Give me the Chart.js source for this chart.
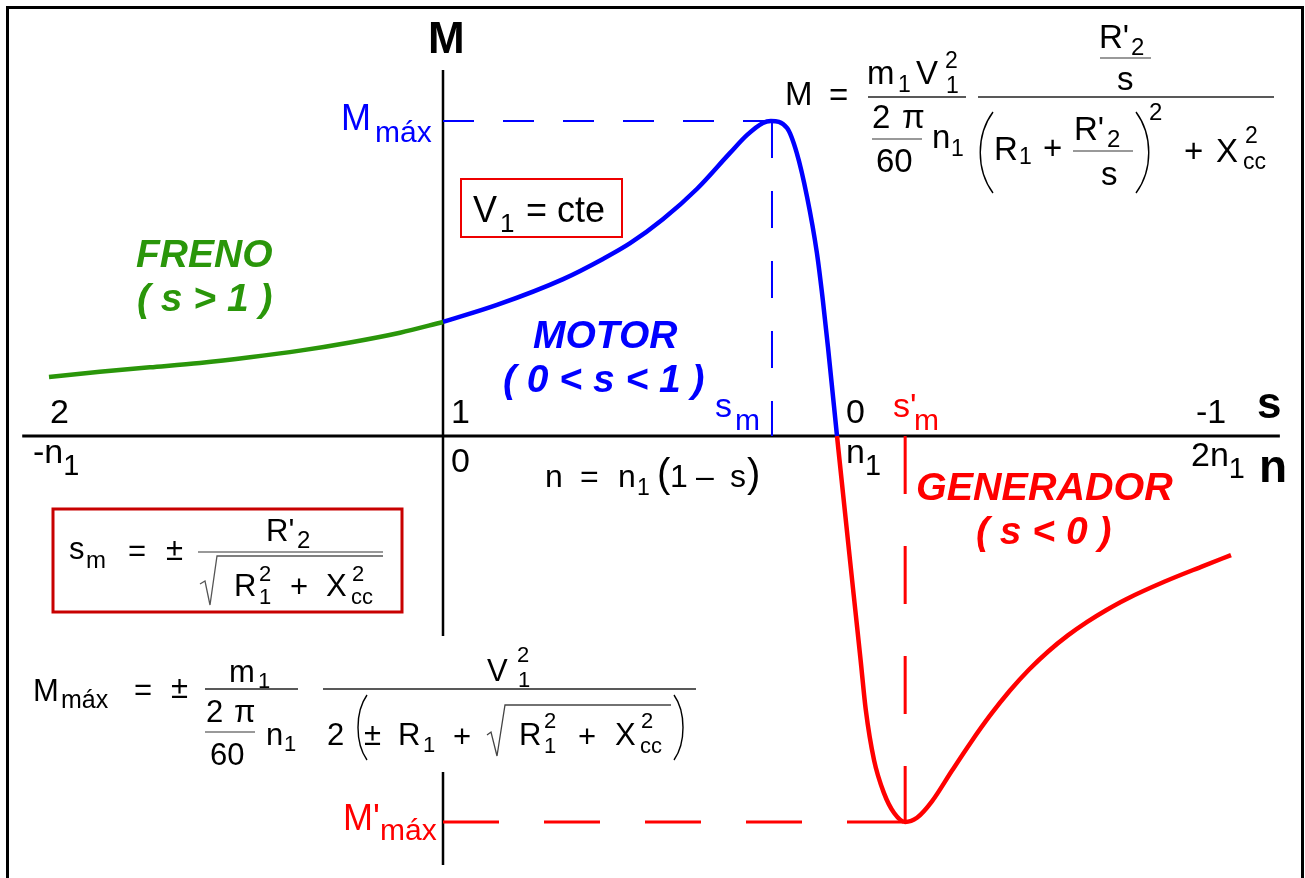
<!DOCTYPE html>
<html><head><meta charset="utf-8">
<script src="https://cdn.jsdelivr.net/npm/chart.js@4.4.1/dist/chart.umd.min.js"></script>
<style>
html,body{margin:0;padding:0;background:#fff;overflow:hidden;width:1305px;height:878px}
#wrap{position:absolute;left:0;top:0;width:1305px;height:878px}
#c{position:absolute;left:0;top:0}
#layer{position:absolute;left:0;top:0;width:1305px;height:878px;pointer-events:none}
.t{position:absolute;white-space:nowrap;font-family:"Liberation Sans",Arial,sans-serif;line-height:1;color:#000}
.tsub{font-size:.85em;position:relative;top:.42em}
#frame{position:absolute;left:6px;top:6px;width:1298px;height:900px;border:3px solid #000;box-sizing:border-box}
#fbox{position:absolute;left:15px;top:636px;width:700px;height:136px;background:#fff}
</style></head>
<body>
<div id="wrap">
<canvas id="c" width="1305" height="878"></canvas>
<div id="frame"></div>
<div id="fbox"></div>
<div id="layer"></div>
<svg id="svg" width="1305" height="878" style="position:absolute;left:0;top:0;pointer-events:none"></svg>
</div>
<script>
// ---- data (n/n1 on x, torque M relative to Mmax on y) ----
const greenN = [-1.0,-0.871,-0.744,-0.617,-0.490,-0.363,-0.236,-0.109,0];
const greenM = [0.187,0.204,0.218,0.232,0.250,0.271,0.297,0.328,0.362];
const blueN = [0,0.137,0.305,0.406,0.475,0.558,0.645,0.728,0.772,0.812,0.832,0.873,0.898,0.924,0.949,0.964,0.977,1.0];
const blueM = [0.362,0.416,0.498,0.562,0.612,0.688,0.785,0.898,0.956,0.994,1.0,0.978,0.898,0.759,0.581,0.432,0.283,0];
const redN = [1.0,1.0117,1.033,1.0464,1.0599,1.0731,1.094,1.119,1.145,1.173,1.203,1.241,1.292,1.340,1.388,1.439,1.487,1.536,1.586,1.635,1.683,1.734,1.832,1.929,2.0];
const redM = [0,-0.140,-0.394,-0.552,-0.711,-0.870,-1.029,-1.133,-1.197,-1.225,-1.212,-1.160,-1.062,-0.972,-0.888,-0.808,-0.742,-0.684,-0.633,-0.590,-0.553,-0.518,-0.462,-0.413,-0.378];
const keyM = [1.0, -1.225];        // Mmax, M'max
const keyN = [0.835, 1.173];       // n at s_m, n at s'_m
const xAxisN = [-1.068, 2.124];
const yAxisM = [1.162, -1.362];
const sTicks = [2, 1, 0, -1];
const sTickLabels = ['2', '1', '0', '-1'];
const nTickLabels = ['-n<span class="tsub">1</span>', '0', 'n<span class="tsub">1</span>', '2n<span class="tsub">1</span>'];

const BLUE = '#0000ff', RED = '#ff0000', GREEN = '#2a960a';
const pts = (xs, ys) => xs.map((x, i) => ({x, y: ys[i]}));

const line = (data, color, width, extra) => Object.assign({
  type: 'scatter', data, showLine: true, borderColor: color, backgroundColor: color,
  borderWidth: width, pointRadius: 0, fill: false
}, extra || {});

const chart = new Chart(document.getElementById('c'), {
  type: 'scatter',
  data: { datasets: [
    line(pts(greenN, greenM), GREEN, 4.5, {cubicInterpolationMode: 'monotone', order: 0}),
    line(pts(blueN, blueM), BLUE, 4.5, {cubicInterpolationMode: 'monotone', order: 0}),
    line(pts(redN, redM), RED, 4.5, {cubicInterpolationMode: 'monotone', order: 0}),
    line([{x: 0, y: keyM[0]}, {x: keyN[0], y: keyM[0]}], BLUE, 2, {borderDash: [31, 29], order: 2}),
    line([{x: keyN[0], y: keyM[0]}, {x: keyN[0], y: 0}], BLUE, 2, {borderDash: [37, 33], order: 2}),
    line([{x: 0, y: keyM[1]}, {x: keyN[1], y: keyM[1]}], RED, 3, {borderDash: [56, 45], order: 2}),
    line([{x: keyN[1], y: 0}, {x: keyN[1], y: keyM[1]}], RED, 3, {borderDash: [58, 52], order: 2}),
    line([{x: xAxisN[0], y: 0}, {x: xAxisN[1], y: 0}], '#000', 3, {order: 5}),
    line([{x: 0, y: yAxisM[0]}, {x: 0, y: yAxisM[1]}], '#000', 2.5, {order: 5})
  ]},
  options: {
    responsive: false, animation: false, devicePixelRatio: 1,
    layout: {padding: 0},
    plugins: {legend: {display: false}, tooltip: {enabled: false}},
    scales: {
      x: {type: 'linear', display: false, min: -443/394, max: (1305-443)/394},
      y: {type: 'linear', display: false, min: (436-878)/315, max: 436/315}
    }
  }
});

// ---- text helpers ----
const layer = document.getElementById('layer');
function T(html, x, by, size, o) {
  o = o || {};
  const d = document.createElement('div');
  d.className = 't';
  d.innerHTML = html;
  d.style.fontSize = size + 'px';
  d.style.top = (by - 0.8465 * size) + 'px';
  d.style.left = x + 'px';
  if (o.color) d.style.color = o.color;
  if (o.bold) d.style.fontWeight = 'bold';
  if (o.italic) d.style.fontStyle = 'italic';
  layer.appendChild(d);
  return d;
}
const svg = document.getElementById('svg');
function P(d, w, color, fill) {
  const p = document.createElementNS('http://www.w3.org/2000/svg', 'path');
  p.setAttribute('d', d);
  p.setAttribute('stroke', color || '#000');
  p.setAttribute('stroke-width', w);
  p.setAttribute('fill', fill || 'none');
  svg.appendChild(p);
}
const bar = (x1, x2, y, c, w) => P(`M${x1} ${y}H${x2}`, w || 1.5, c || '#222');

// ---- tick labels positioned through the x scale ----
const xs = chart.scales.x;
const sDx = [1, 8, 9, -35], sBy = [423, 423, 423, 423];
const nDx = [-16, 8, 9, -40], nBy = [463, 472, 463, 466];
sTicks.forEach((s, i) => {
  const px = xs.getPixelForValue(1 - s);
  T(sTickLabels[i], px + sDx[i], sBy[i], 34);
  T(nTickLabels[i], px + nDx[i], nBy[i], 34);
});

// axis names
T('M', 428, 53, 44, {bold: true});
T('s', 1257, 418, 44, {bold: true});
T('n', 1259, 482, 46, {bold: true});

// key labels
T('M', 341, 130, 36, {color: BLUE});
T('máx', 375, 142, 30, {color: BLUE});
T("M'", 343, 830, 36, {color: RED});
T('máx', 380, 840, 30, {color: RED});
T('s', 715, 417, 34, {color: BLUE});
T('m', 735, 430, 30, {color: BLUE});
T("s'", 893, 417, 34, {color: RED});
T('m', 914, 430, 30, {color: RED});

// zone labels
T('FRENO', 136, 267, 39, {bold: true, italic: true, color: GREEN});
T('( s &gt; 1 )', 137, 311, 39, {bold: true, italic: true, color: GREEN});
T('MOTOR', 533, 348, 39, {bold: true, italic: true, color: BLUE});
T('( 0 &lt; s &lt; 1 )', 503, 392, 39, {bold: true, italic: true, color: BLUE});
T('GENERADOR', 916, 500, 39.5, {bold: true, italic: true, color: RED});
T('( s &lt; 0 )', 976, 544, 39, {bold: true, italic: true, color: RED});

// V1 = cte box
P('M461 179H622V237H461Z', 2, '#ee0000');
T('V', 473, 222, 36);
T('1', 500, 232, 26);
T('= cte', 526, 222, 36);

// n = n1 (1 - s)
T('n', 545, 487, 32);
T('=', 580, 487, 32);
T('n', 618, 487, 32);
T('1', 637, 495, 23);
T('(', 657, 487, 40);
T('1', 670, 487, 32);
T('–', 696, 487, 32);
T('s', 730, 487, 32);
T(')', 747, 487, 40);

// ---- top formula ----
T('M', 785, 105, 33);
T('=', 829, 106, 33);
T('m', 867, 84, 33); T('1', 898, 92, 23);
T('V', 916, 84, 33); T('2', 945, 68, 23); T('1', 946, 93, 23);
bar(868, 966, 97);
T('2', 872, 128, 33); T('π', 902, 128, 33);
bar(872, 922, 139, '#777');
T('60', 876, 172, 33);
T('n', 932, 148, 33); T('1', 951, 156, 23);
bar(978, 1274, 97);
T("R'", 1099, 48, 33); T('2', 1131, 55, 24);
bar(1100, 1151, 58, '#777');
T('s', 1117, 90, 33);
P('M993 112C976 135 976 170 993 193', 1.4);
P('M1136 112C1153 135 1153 170 1136 193', 1.4);
T('2', 1149, 120, 24);
T('R', 994, 160, 33); T('1', 1019, 164, 23);
T('+', 1043, 159, 33);
T("R'", 1074, 140, 33); T('2', 1107, 147, 24);
bar(1073, 1133, 151, '#777');
T('s', 1101, 185, 33);
T('+', 1184, 162, 33);
T('X', 1216, 162, 33); T('2', 1245, 143, 23); T('cc', 1243, 169, 23);

// ---- s_m box formula ----
P('M53 509H402V612H53Z', 3, '#c80000');
T('s', 69, 559, 31); T('m', 86, 568, 24);
T('=', 128, 561, 31);
T('±', 166, 560, 31);
T("R'", 266, 541, 31); T('2', 297, 548, 24);
bar(198, 383, 552, '#777');
P('M200 584L205 581L210 605L217 556H383', 1.3, '#555');
T('R', 234, 596, 31); T('2', 259, 582, 22); T('1', 259, 605, 22);
T('+', 290, 597, 31);
T('X', 326, 596, 31); T('2', 352, 582, 22); T('cc', 351, 605, 22);

// ---- Mmax formula ----
T('M', 33, 701, 31); T('máx', 61, 708, 25);
T('=', 134, 700, 31);
T('±', 171, 698, 31);
T('m', 229, 682, 31); T('1', 258, 689, 22);
bar(205, 298, 689);
T('2', 206, 722, 31); T('π', 234, 722, 31);
bar(205, 255, 732, '#777');
T('60', 210, 765, 31);
T('n', 266, 745, 31); T('1', 284, 752, 22);
bar(323, 696, 689);
T('V', 487, 681, 31); T('2', 517, 663, 22); T('1', 518, 688, 22);
T('2', 327, 745, 31);
P('M367 695C355 712 355 743 367 760', 1.4);
P('M674 695C686 712 686 743 674 760', 1.4);
T('±', 364, 745, 31);
T('R', 398, 745, 31); T('1', 423, 753, 22);
T('+', 453, 747, 31);
P('M487 735L491 732L497 756L505 705H671', 1.3, '#444');
T('R', 519, 745, 31); T('2', 544, 729, 22); T('1', 544, 754, 22);
T('+', 578, 747, 31);
T('X', 615, 745, 31); T('2', 641, 729, 22); T('cc', 640, 754, 22);
</script>
</body></html>
